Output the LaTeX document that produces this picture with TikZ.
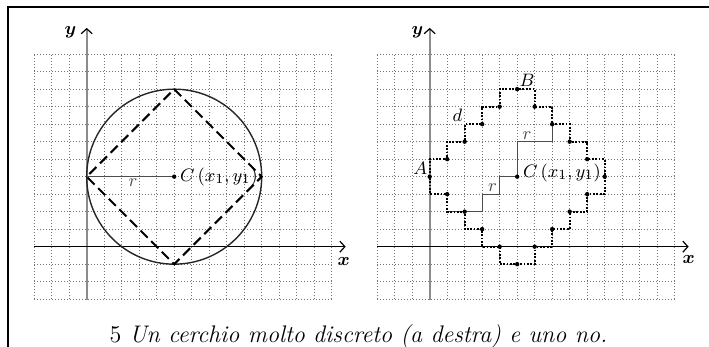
\documentclass[tikz,border=0pt]{standalone}
\usepackage{tikz}
\usetikzlibrary{arrows.meta, positioning, calc}

\tikzset{
  gridline/.style={black!55, line width=0.5pt, dash pattern=on 0.5pt off 1pt},
  xaxis/.style={black, line width=0.6pt, -{Straight Barb[length=2.5pt, width=5.5pt]}},
  yaxis/.style={black!45, line width=1pt, -{Straight Barb[black, length=2.5pt, width=5.5pt, line width=0.6pt]}},
  circline/.style={black!85, line width=0.7pt},
  diamondline/.style={black, line width=1pt, dash pattern=on 5pt off 2.5pt},
  radiusline/.style={black!70, line width=0.5pt},
  stairline/.style={black, line width=1.1pt, dash pattern=on 0.9pt off 0.8pt},
  ptdot/.style={circle, fill=black, inner sep=0pt, minimum size=2.2pt},
  lbl/.style={inner sep=1pt, font=\fontsize{9.5}{11}\selectfont},
  axlbl/.style={inner sep=1pt, font=\fontsize{9}{10}\selectfont\boldmath},
}

\begin{document}
\begin{tikzpicture}[x=8.75pt, y=8.75pt]
  \useasboundingbox (-4.953,-5.733) rectangle (35.562,14.095);

  % frame
  \coordinate (frameBL) at (-4.478,-5.733);
  \coordinate (frameTL) at (-4.478,13.68);
  \coordinate (frameTR) at (35.562,13.68);
  \draw[line width=0.9pt] (frameBL) -- (frameTL) -- (frameTR);

  % left: the usual circle
  \begin{scope}
    \draw[gridline, step=1] (-3,-3) grid (14,11);
    \draw[yaxis] (0,-3.05) -- (0,12.5) coordinate (yTipL);
    \draw[xaxis] (-3,0) -- (14.8,0) coordinate (xTipL);
    \node[axlbl, left=4pt of yTipL, yshift=-2pt] (yLabL) {$y$};
    \node[axlbl, below=4pt of xTipL, xshift=-1pt] (xLabL) {$x$};

    \coordinate (CL) at (5,4);
    \coordinate (topL) at (5,9);
    \coordinate (rightL) at (10,4);
    \coordinate (botL) at (5,-1);
    \coordinate (leftL) at (0,4);
    \draw[circline] (CL) circle[radius=5];
    \draw[diamondline] (topL) -- (rightL) -- (botL) -- (leftL) -- cycle;
    \draw[radiusline] (leftL) -- (CL) node[lbl, below, pos=0.53] (rL) {$r$};
    \node[ptdot] (dotCL) at (CL) {};
    \node[lbl, right=0.5pt of dotCL] (labCL) {$C\,(x_1,y_1)$};
  \end{scope}

  % right: the discrete circle
  \begin{scope}[xshift=19.6*8.75pt]
    \draw[gridline, step=1] (-3,-3) grid (14,11);
    \draw[yaxis] (0,-3.05) -- (0,12.5) coordinate (yTipR);
    \draw[xaxis] (-3,0) -- (14.8,0) coordinate (xTipR);
    \node[axlbl, left=2pt of yTipR, yshift=-2pt] (yLabR) {$y$};
    \node[axlbl, below=3pt of xTipR] (xLabR) {$x$};

    \coordinate (CR) at (5,4);
    \coordinate (AR) at (0,4);
    \coordinate (BR) at (5,9);
    \coordinate (DR) at (2,7);
    \draw[radiusline] (CR) -- (5,6) -- (7,6) node[lbl, above, pos=0.28] (rUp) {$r$} -- (7,7);
    \draw[radiusline] (CR) -- (4,4) -- (4,3) -- (3,3) node[lbl, above, pos=0.4] (rLow) {$r$}
      -- (3,2) -- (2,2) -- (1,2);
    \draw[stairline] (AR) -- (0,5) -- (1,5) -- (1,6) -- (2,6) -- (2,7) -- (3,7) -- (3,8)
      -- (4,8) -- (4,9) -- (6,9) -- (6,8) -- (7,8) -- (7,7) -- (8,7) -- (8,6) -- (9,6)
      -- (9,5) -- (10,5) -- (10,3) -- (9,3) -- (9,2) -- (8,2) -- (8,1) -- (7,1) -- (7,0)
      -- (6,0) -- (6,-1) -- (4,-1) -- (4,0) -- (3,0) -- (3,1) -- (2,1) -- (2,2) -- (1,2)
      -- (1,3) -- (0,3) -- cycle;
    \foreach \p in {(5,9),(4,8),(3,7),(2,6),(1,5),(0,4),(1,3),(2,2),(3,1),(4,0),
                    (5,-1),(6,0),(7,1),(8,2),(9,3),(10,4),(9,5),(8,6),(7,7),(6,8)}
      \node[ptdot] at \p {};
    \node[ptdot] (dotCR) at (CR) {};
    \node[lbl, right=0.5pt of dotCR, yshift=2pt] (labCR) {$C\,(x_1,y_1)$};
    \node[lbl, above left=0pt and 0pt of AR] (labA) {$A$};
    \node[lbl, above right=0pt and 0pt of BR] (labB) {$B$};
    \node[lbl, above left=0pt and 0pt of DR] (labD) {$d$};
  \end{scope}

  % caption
  \node[font=\fontsize{12}{14}\selectfont, anchor=base] (caption) at (15.53,-5.5)
    {5 \textit{Un cerchio molto discreto (a destra) e uno no.}};
\end{tikzpicture}
\end{document}
